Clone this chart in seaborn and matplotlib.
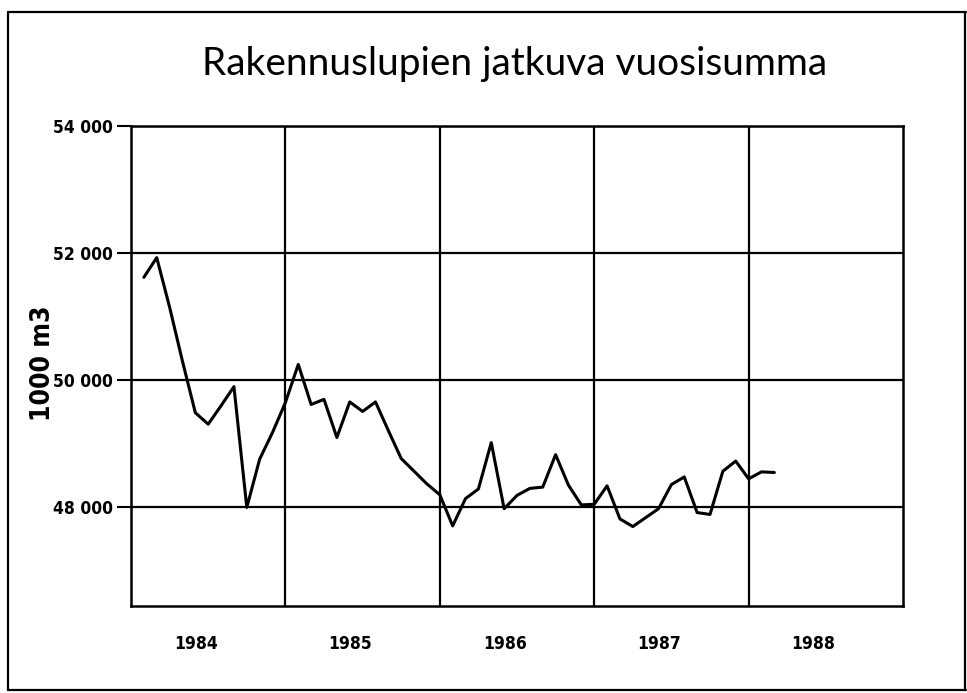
import matplotlib
matplotlib.use("Agg")
from matplotlib import pyplot as plt
from matplotlib.lines import Line2D
import pandas as pd
import seaborn as sns

# kuukausittaiset arvot, 1000 m3 (tammikuu 1984 - helmikuu 1988)
months = list(range(1, 51))
values = [
    51620, 51930, 51150, 50300, 49490, 49310, 49600, 49900, 48000, 48760,
    49180, 49650, 50250, 49620, 49700, 49100, 49660, 49510, 49660, 49210,
    48770, 48570, 48370, 48200, 47710, 48140, 48290, 49020, 47980, 48190,
    48300, 48320, 48830, 48350, 48040, 48050, 48340, 47820, 47700, 47840,
    47980, 48360, 48480, 47920, 47890, 48570, 48730, 48450, 48560, 48550,
]
years = [1984, 1985, 1986, 1987, 1988]
y_ticks = [48000, 50000, 52000, 54000]
y_labels = ["48 000", "50 000", "52 000", "54 000"]

df = pd.DataFrame({"t": [1984 + m / 12 for m in months], "value": values})

sns.set_theme(style="white")
plt.rcParams["font.family"] = ["DejaVu Sans"]
plt.rcParams["font.stretch"] = "condensed"
plt.rcParams["text.color"] = "black"
plt.rcParams["xtick.color"] = "black"
plt.rcParams["ytick.color"] = "black"

fig = plt.figure(figsize=(9.67, 6.93), dpi=100)
ax = fig.add_axes([131 / 967, 1 - 606 / 693, (903 - 131) / 967, (606 - 126) / 693])

sns.lineplot(data=df, x="t", y="value", ax=ax, color="black", linewidth=2.2)

ax.set_xlim(1984, 1989)
ax.set_ylim(46450, 54000)

# ruudukko
for yr in years[1:]:
    ax.axvline(yr, color="black", linewidth=1.6, zorder=1)
for yv in y_ticks:
    ax.axhline(yv, color="black", linewidth=1.6, zorder=1)

for s in ax.spines.values():
    s.set_color("black")
    s.set_linewidth(1.8)

ax.set_yticks(y_ticks)
ax.set_yticklabels(y_labels, fontsize=12.5, fontweight="bold", fontstretch="condensed")
ax.tick_params(axis="y", left=True, direction="out", length=10, width=1.5, color="black", pad=3)
ax.set_xticks([y + 0.42 for y in years])
ax.set_xticklabels([str(y) for y in years], fontsize=12.5, fontweight="bold", fontstretch="condensed")
ax.tick_params(axis="x", bottom=False, length=0, pad=21)
ax.set_xlabel("")
ax.set_ylabel("")

fig.text(43 / 967, 1 - 363 / 693, "1000 m3", rotation=90, ha="center", va="center",
         fontsize=19, fontweight="bold", fontstretch="condensed")

fig.text(515 / 967, 1 - 64 / 693, "Rakennuslupien jatkuva vuosisumma",
         ha="center", va="center", fontsize=28, family=["Lato", "DejaVu Sans"])

# kehys koko kuvan ympärillä
for xs, ys in [([8, 8], [12, 690]), ([8, 966], [12, 12]), ([8, 966], [690, 690]), ([965, 965], [12, 690])]:
    fig.add_artist(Line2D([x / 967 for x in xs], [1 - y / 693 for y in ys],
                          color="black", linewidth=1.6))

fig.savefig("out.png", dpi=100)
